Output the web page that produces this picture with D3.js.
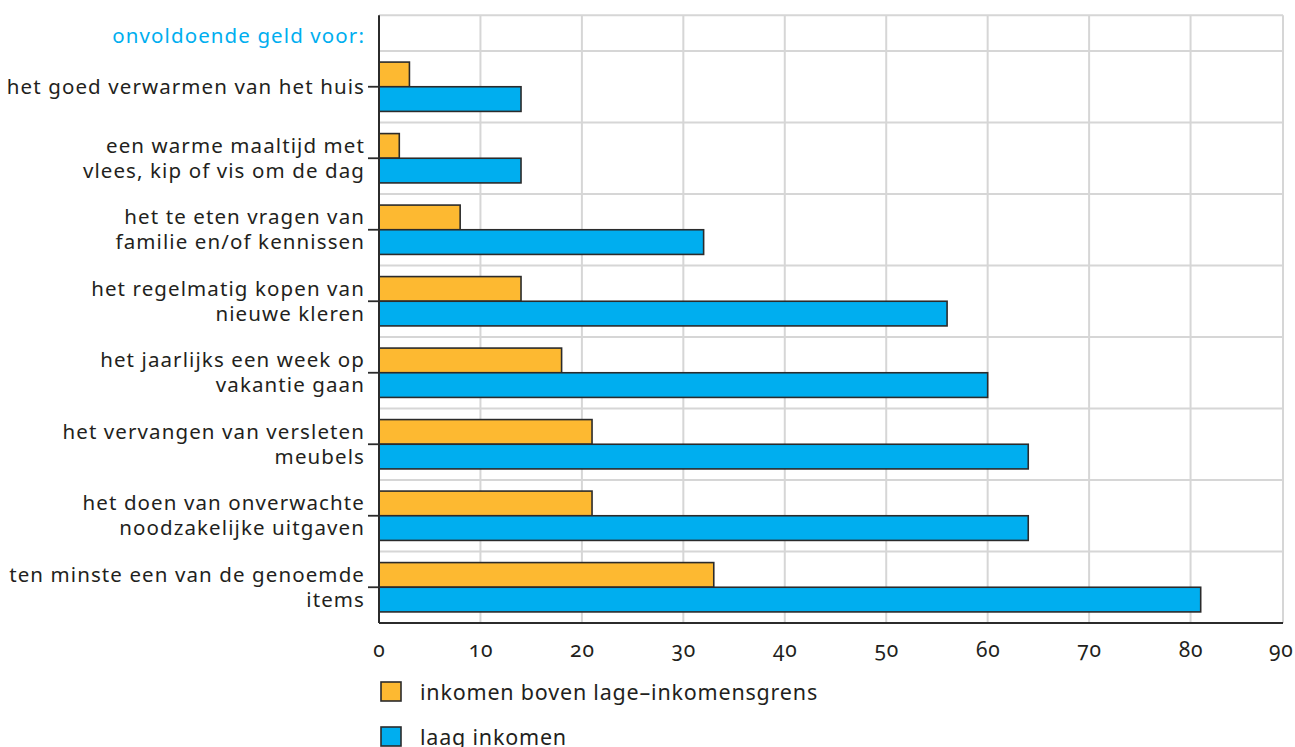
<!DOCTYPE html>
<html>
<head>
<meta charset="utf-8">
<script src="https://cdn.jsdelivr.net/npm/d3@7.9.0/dist/d3.min.js"></script>
<style>
  body { margin: 0; background: #fff; }
  svg text { font-family: "Noto Sans", "Open Sans", sans-serif; fill: #231f20; }
</style>
</head>
<body>
<svg id="chart" width="1295" height="747"></svg>
<script>
// data (percentages)
const categories = [
  ["het goed verwarmen van het huis"],
  ["een warme maaltijd met", "vlees, kip of vis om de dag"],
  ["het te eten vragen van", "familie en/of kennissen"],
  ["het regelmatig kopen van", "nieuwe kleren"],
  ["het jaarlijks een week op", "vakantie gaan"],
  ["het vervangen van versleten", "meubels"],
  ["het doen van onverwachte", "noodzakelijke uitgaven"],
  ["ten minste een van de genoemde", "items"]
];
const boven = [3, 2, 8, 14, 18, 21, 21, 33];
const laag = [14, 14, 32, 56, 60, 64, 64, 81];
const seriesNames = ["inkomen boven lage\u2013inkomensgrens", "laag inkomen"];
const seriesColors = ["#fdb931", "#00aeef"];
const xTicks = [0, 10, 20, 30, 40, 50, 60, 70, 80, 90];
const titleText = "onvoldoende geld voor:";

const svg = d3.select("#chart");

const left = 379, right = 1283, bottom = 623;
const x = d3.scaleLinear().domain([0, 90]).range([left, 1292]);

const y = d3.scaleBand()
  .domain(d3.range(categories.length))
  .range([51, bottom]);
const bw = y.bandwidth();
const plotTop = 51 - bw / 2;

const sub = d3.scaleBand()
  .domain([0, 1])
  .range([bw * 0.155, bw * 0.845]);

// grid
const grid = svg.append("g").attr("stroke", "#d6d6d6").attr("stroke-width", 2);
grid.selectAll("line.v")
  .data(xTicks.filter(d => d > 0 && x(d) < right))
  .join("line")
  .attr("x1", d => x(d)).attr("x2", d => x(d))
  .attr("y1", plotTop).attr("y2", bottom);
grid.append("line").attr("x1", right).attr("x2", right).attr("y1", plotTop).attr("y2", bottom);
grid.selectAll("line.h")
  .data(d3.range(categories.length))
  .join("line")
  .attr("x1", left).attr("x2", right)
  .attr("y1", d => y(d)).attr("y2", d => y(d));
grid.append("line").attr("x1", left).attr("x2", right).attr("y1", plotTop).attr("y2", plotTop);

// bars
const rows = svg.append("g").selectAll("g")
  .data(categories.map((c, i) => [boven[i], laag[i]]))
  .join("g")
  .attr("transform", (d, i) => `translate(0,${y(i)})`);

rows.selectAll("rect")
  .data(d => d)
  .join("rect")
  .attr("x", x(0))
  .attr("y", (d, j) => sub(j))
  .attr("width", d => x(d) - x(0))
  .attr("height", sub.bandwidth())
  .attr("fill", (d, j) => seriesColors[j])
  .attr("stroke", "#2b2b2b")
  .attr("stroke-width", 1.6);

// x axis
const xAxis = svg.append("g")
  .attr("transform", `translate(0,${bottom})`)
  .call(d3.axisBottom(x).tickValues(xTicks).tickSize(0).tickPadding(19));
xAxis.select(".domain").remove();
xAxis.selectAll("text")
  .style("font-size", "21px")
  .style("letter-spacing", "0.8px")
  .style("font-variant-numeric", "oldstyle-nums")
  .attr("text-anchor", d => d === 90 ? "end" : "middle")
  .attr("dx", d => d === 90 ? 1 : 0);
svg.append("line")
  .attr("x1", left).attr("x2", right)
  .attr("y1", bottom).attr("y2", bottom)
  .attr("stroke", "#2b2b2b").attr("stroke-width", 2);

// y axis
const yAxis = svg.append("g")
  .attr("transform", `translate(${left},0)`)
  .call(d3.axisLeft(y).tickSize(11).tickFormat(""));
yAxis.select(".domain").remove();
yAxis.selectAll(".tick line").attr("stroke", "#2b2b2b").attr("stroke-width", 1.8);
svg.append("line")
  .attr("x1", left).attr("x2", left)
  .attr("y1", plotTop).attr("y2", bottom)
  .attr("stroke", "#2b2b2b").attr("stroke-width", 2);

const lh = 25;
yAxis.selectAll(".tick")
  .append("text")
  .attr("x", -14)
  .attr("text-anchor", "end")
  .style("font-size", "20.5px")
  .style("letter-spacing", "1.1px")
  .each(function(d) {
    const lines = categories[d];
    const t = d3.select(this);
    lines.forEach((s, k) => {
      t.append("tspan")
        .attr("x", -14)
        .attr("y", (k - (lines.length - 1) / 2) * lh)
        .attr("dy", "0.35em")
        .text(s);
    });
  });

svg.append("text")
  .attr("x", left - 14)
  .attr("y", plotTop + bw / 4 + 3)
  .attr("dy", "0.35em")
  .attr("text-anchor", "end")
  .style("font-size", "20.5px")
  .style("letter-spacing", "1.1px")
  .style("fill", "#00aeef")
  .text(titleText);

// legend
const legend = svg.append("g").selectAll("g")
  .data(seriesNames)
  .join("g")
  .attr("transform", (d, i) => `translate(${left + 2},${682 + i * 45})`);
legend.append("rect")
  .attr("width", 20).attr("height", 19)
  .attr("fill", (d, i) => seriesColors[i])
  .attr("stroke", "#2b2b2b").attr("stroke-width", 1.6);
legend.append("text")
  .attr("x", 39).attr("y", 10).attr("dy", "0.35em")
  .style("font-size", "21.5px")
  .style("letter-spacing", "0.8px")
  .text(d => d);
</script>
</body>
</html>
